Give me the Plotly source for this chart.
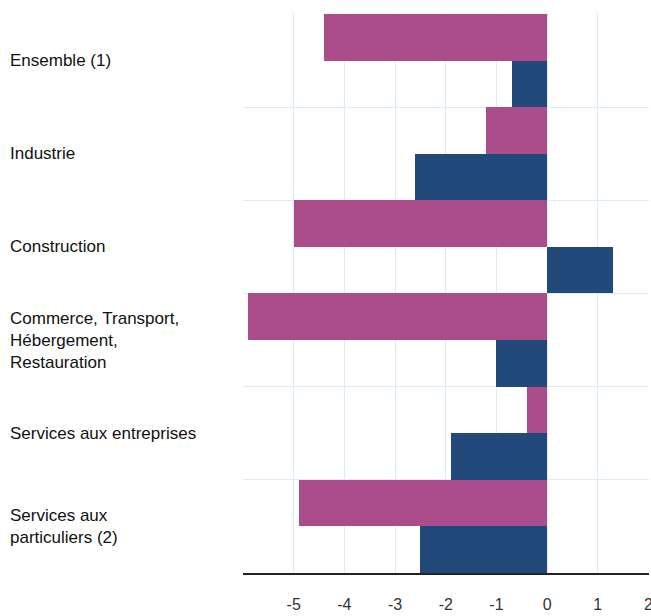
import plotly.graph_objects as go

# Données (en %)
categories = [
    "Ensemble (1)",
    "Industrie",
    "Construction",
    "Commerce, Transport,<br>Hébergement,<br>Restauration",
    "Services aux entreprises",
    "Services aux<br>particuliers (2)",
]
serie_1 = [-4.4, -1.2, -5.0, -5.9, -0.4, -4.9]
serie_2 = [-0.7, -2.6, 1.3, -1.0, -1.9, -2.5]
x_ticks = [-5, -4, -3, -2, -1, 0, 1, 2]
x_ticktext = ["-5", "-4", "-3", "-2", "-1", "0", "1", "2"]

COULEUR_1 = "#AA4D8A"
COULEUR_2 = "#214A7A"
GRILLE = "#DDEBF7"
POLICE = "Liberation Sans, Arial, sans-serif"


def create_bar_chart():
    """
    Barres horizontales groupées, une catégorie par bande.
    """
    positions = list(range(len(categories)))

    fig = go.Figure()

    fig.add_trace(
        go.Bar(
            x=serie_1,
            y=positions,
            orientation="h",
            name="Série 1",
            marker=dict(color=COULEUR_1, line=dict(width=0)),
        )
    )
    fig.add_trace(
        go.Bar(
            x=serie_2,
            y=positions,
            orientation="h",
            name="Série 2",
            marker=dict(color=COULEUR_2, line=dict(width=0)),
        )
    )

    # libellés des catégories, alignés à gauche
    for pos, label in zip(positions, categories):
        fig.add_annotation(
            x=-0.579,
            xref="paper",
            xanchor="left",
            y=pos,
            yref="y",
            yanchor="middle",
            text=label,
            align="left",
            showarrow=False,
            font=dict(family=POLICE, size=17, color="#111111"),
        )

    # lignes de séparation entre les catégories
    limites = [p - 0.5 for p in positions]

    fig.update_layout(
        width=651,
        height=616,
        margin=dict(l=243, r=2, t=13, b=43, autoexpand=False),
        barmode="group",
        bargap=0,
        bargroupgap=0,
        showlegend=False,
        plot_bgcolor="white",
        paper_bgcolor="white",
        font=dict(family=POLICE, size=16, color="#333333"),
        xaxis=dict(
            range=[-6, 2.01],
            tickvals=x_ticks,
            ticktext=x_ticktext,
            showgrid=True,
            gridcolor=GRILLE,
            gridwidth=1,
            zeroline=False,
            showline=True,
            linecolor="#222222",
            linewidth=1.5,
            ticks="",
            ticklabelstandoff=16,
            ticklabeloverflow="allow",
            automargin=False,
            tickfont=dict(family=POLICE, size=16, color="#333333"),
        ),
        yaxis=dict(
            range=[len(categories) - 0.5, -0.51],
            tickvals=limites,
            ticktext=["" for _ in limites],
            showgrid=True,
            gridcolor=GRILLE,
            gridwidth=1,
            zeroline=False,
            showline=False,
            ticks="",
            automargin=False,
        ),
    )

    return fig


fig = create_bar_chart()
# pas de marge autour du graphique dans la page
fig.write_html(
    "out.html",
    config={"displayModeBar": False},
    post_script="document.body.style.margin='0';",
)
